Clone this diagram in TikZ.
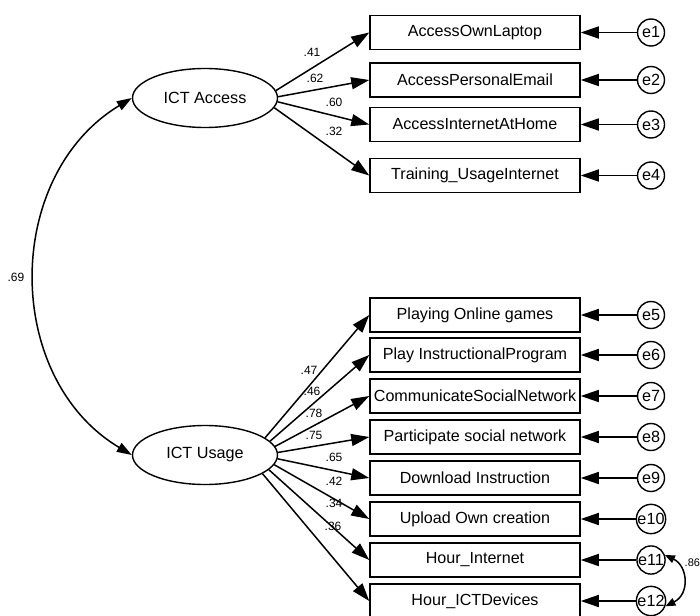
\documentclass[tikz,border=0pt]{standalone}
\usepackage{fontspec}
\setmainfont{Liberation Sans}
\usetikzlibrary{arrows.meta,shapes.geometric}

\tikzset{
  obs/.style={draw, line width=1.5pt, minimum width=210pt, minimum height=34pt,
              inner sep=0pt, font=\fontsize{16.1}{18}\selectfont},
  lat/.style={draw, ellipse, line width=1.4pt, minimum width=145pt, minimum height=59pt,
              inner sep=0pt, font=\fontsize{16.2}{19}\selectfont},
  err/.style={draw, circle, line width=1.4pt, minimum size=27pt, inner sep=0pt,
              font=\fontsize{16.2}{19}\selectfont},
  load/.style={line width=1.5pt, -{Triangle[length=18pt,width=12pt]}},
  cov/.style={line width=1.5pt, {Triangle[length=15pt,width=10pt]}-{Triangle[length=15pt,width=10pt]}},
  smallcov/.style={line width=1.5pt, {Triangle[length=10pt,width=8pt]}-{Triangle[length=10pt,width=8pt]}},
  coef/.style={inner sep=0pt, font=\fontsize{12}{14}\selectfont},
}

\begin{document}
\begin{tikzpicture}[x=1pt,y=-1pt]
\useasboundingbox (0,0) rectangle (700,615);

% latent factors
\node[lat] (acc) at (205,98) {ICT Access};
\node[lat] (use) at (205,455) {ICT Usage};

% indicators of ICT Access
\node[obs] (b1) at (475,32.5) {AccessOwnLaptop};
\node[obs] (b2) at (475,80) {AccessPersonalEmail};
\node[obs] (b3) at (475,124.5) {AccessInternetAtHome};
\node[obs] (b4) at (475,175.5) {Training\_UsageInternet};

% indicators of ICT Usage
\node[obs] (b5) at (475,315) {Playing Online games};
\node[obs] (b6) at (475,355) {Play InstructionalProgram};
\node[obs] (b7) at (475,396) {CommunicateSocialNetwork};
\node[obs] (b8) at (475,437) {Participate social network};
\node[obs] (b9) at (475,478) {Download Instruction};
\node[obs] (b10) at (475,519) {Upload Own creation};
\node[obs] (b11) at (475,560) {Hour\_Internet};
\node[obs] (b12) at (475,601) {Hour\_ICTDevices};

% error terms
\foreach \i/\y in {1/32.5,2/80,3/124.5,4/175.5,5/315,6/355,7/396,8/437,9/478,10/519,11/560,12/601}{
  \node[err] (e\i) at (651,\y) {e\i};
  \draw[load] (e\i) -- (b\i.east);
}

% loadings of ICT Access
\draw[load] (acc.6) -- (b1.west);
\draw[load] (acc.1) -- (b2.west);
\draw[load] (acc.-3) -- (b3.west);
\draw[load] (acc.-8) -- (b4.west);
\node[coef] (l1) at (312,52) {.41};
\node[coef] (l2) at (315,78) {.62};
\node[coef] (l3) at (334,102) {.60};
\node[coef] (l4) at (334,131) {.32};

% loadings of ICT Usage
\draw[load] (use.16) -- (b5.west);
\draw[load] (use.12) -- (b6.west);
\draw[load] (use.7) -- (b7.west);
\draw[load] (use.2) -- (b8.west);
\draw[load] (use.-3) -- (b9.west);
\draw[load] (use.-8) -- (b10.west);
\draw[load] (use.-13) -- (b11.west);
\draw[load] (use.-18) -- (b12.west);
\node[coef] (l5) at (309,370) {.47};
\node[coef] (l6) at (312,391) {.46};
\node[coef] (l7) at (314,413) {.78};
\node[coef] (l8) at (314,435) {.75};
\node[coef] (l9) at (334,457) {.65};
\node[coef] (l10) at (334,481) {.42};
\node[coef] (l11) at (334,503) {.34};
\node[coef] (l12) at (333,526) {.36};

% factor covariance
\draw[cov] (acc.west) .. controls (3,176) and (3,378) .. (use.west);
\node[coef] (r1) at (16,277) {.69};

% error covariance
\draw[smallcov] (e11.20) .. controls (688,566) and (690,594) .. (e12.-20);
\node[coef, anchor=west, font=\fontsize{11}{13}\selectfont] (r2) at (684.5,563) {.86};
\end{tikzpicture}
\end{document}
